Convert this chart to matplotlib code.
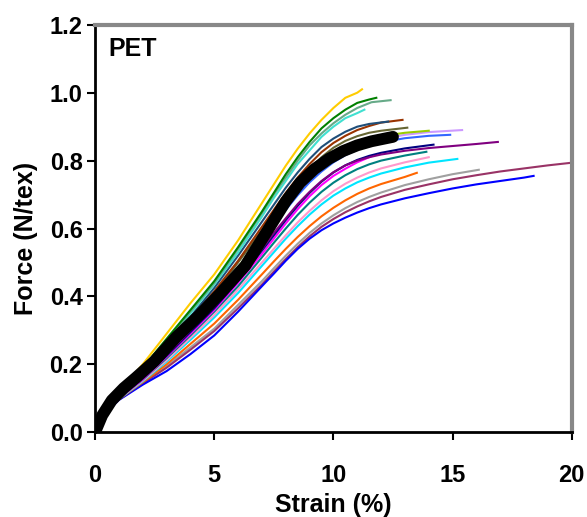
import matplotlib
matplotlib.use("Agg")
import matplotlib.pyplot as plt

plt.rcParams["font.family"] = ["Liberation Sans", "DejaVu Sans"]
plt.rcParams["font.weight"] = "bold"

# strain grid shared by every curve up to 11 % (values are per curve)
X0 = [0, 0.5, 1, 2, 3, 4, 5, 6]
XM = [7, 7.5, 8, 8.5, 9, 9.5, 10, 10.5, 11]

# individual fibre curves: strain (%) and force (N/tex)
gold_x = X0 + XM + [11.2]
gold_y = [0, 0.075, 0.12, 0.20, 0.29, 0.38, 0.465, 0.565,
          0.675, 0.73, 0.785, 0.835, 0.88, 0.92, 0.955, 0.985, 1.0, 1.01]
green_x = X0 + XM + [11.5, 11.8]
green_y = [0, 0.072, 0.115, 0.19, 0.275, 0.36, 0.445, 0.545,
           0.65, 0.705, 0.76, 0.81, 0.855, 0.895, 0.925, 0.95, 0.97, 0.98, 0.985]
seagreen_x = X0 + XM + [11.6, 12.4]
seagreen_y = [0, 0.07, 0.112, 0.185, 0.27, 0.355, 0.44, 0.54,
              0.645, 0.70, 0.75, 0.80, 0.845, 0.88, 0.91, 0.935, 0.955, 0.972, 0.978]
turq_x = X0 + XM + [11.3]
turq_y = [0, 0.07, 0.11, 0.18, 0.265, 0.35, 0.435, 0.53,
          0.635, 0.69, 0.74, 0.79, 0.83, 0.87, 0.90, 0.925, 0.94, 0.95]
slate_x = X0 + XM + [11.5, 12.3]
slate_y = [0, 0.07, 0.11, 0.18, 0.26, 0.34, 0.425, 0.52,
           0.62, 0.67, 0.72, 0.765, 0.805, 0.84, 0.865, 0.885, 0.90, 0.908, 0.915]
brown_x = X0 + XM + [11.5, 12, 12.9]
brown_y = [0, 0.068, 0.108, 0.175, 0.255, 0.335, 0.415, 0.505,
           0.605, 0.655, 0.705, 0.75, 0.79, 0.825, 0.852, 0.873, 0.89, 0.902, 0.912, 0.92]
olive_x = X0 + XM + [11.5, 12, 13.1]
olive_y = [0, 0.068, 0.107, 0.172, 0.25, 0.33, 0.41, 0.50,
           0.595, 0.645, 0.69, 0.735, 0.775, 0.81, 0.838, 0.858, 0.872, 0.882, 0.888, 0.897]
ygreen_x = X0 + XM + [11.5, 12, 13, 14]
ygreen_y = [0, 0.067, 0.106, 0.17, 0.245, 0.32, 0.40, 0.485,
            0.58, 0.63, 0.675, 0.72, 0.758, 0.79, 0.817, 0.838, 0.853, 0.864, 0.872, 0.882, 0.888]
lav_x = X0 + XM + [11.5, 12, 13, 14, 15.4]
lav_y = [0, 0.066, 0.105, 0.168, 0.24, 0.315, 0.39, 0.475,
         0.57, 0.62, 0.665, 0.708, 0.746, 0.778, 0.805, 0.826, 0.842, 0.854, 0.863, 0.876, 0.884, 0.89]
royal_x = X0 + XM + [11.5, 12, 13, 14, 14.9]
royal_y = [0, 0.066, 0.104, 0.165, 0.235, 0.31, 0.385, 0.47,
           0.56, 0.61, 0.655, 0.698, 0.736, 0.768, 0.795, 0.816, 0.832, 0.845, 0.854, 0.866, 0.873, 0.876]
purple_x = X0 + XM + [11.5, 12, 13, 14, 15, 16, 16.9]
purple_y = [0, 0.065, 0.102, 0.16, 0.228, 0.30, 0.37, 0.45,
            0.54, 0.587, 0.63, 0.672, 0.708, 0.74, 0.766, 0.786, 0.80, 0.81, 0.818, 0.829, 0.837,
            0.843, 0.849, 0.855]
navy_x = X0 + XM + [11.5, 12, 13, 14.2]
navy_y = [0, 0.065, 0.101, 0.158, 0.225, 0.295, 0.365, 0.445,
          0.535, 0.58, 0.625, 0.667, 0.705, 0.738, 0.765, 0.786, 0.802, 0.814, 0.823, 0.836, 0.847]
magenta_x = X0 + XM + [11.6]
magenta_y = [0, 0.064, 0.10, 0.156, 0.222, 0.29, 0.36, 0.44,
             0.525, 0.57, 0.615, 0.657, 0.695, 0.728, 0.755, 0.776, 0.795, 0.813]
teal_x = X0 + XM + [11.5, 12, 13, 13.9]
teal_y = [0, 0.064, 0.10, 0.155, 0.218, 0.285, 0.355, 0.43,
          0.515, 0.558, 0.60, 0.64, 0.676, 0.708, 0.735, 0.757, 0.775, 0.789, 0.80, 0.815, 0.826]
pink_x = X0 + XM + [11.5, 12, 13, 14]
pink_y = [0, 0.063, 0.099, 0.152, 0.212, 0.278, 0.345, 0.42,
          0.50, 0.54, 0.58, 0.618, 0.652, 0.683, 0.71, 0.732, 0.75, 0.765, 0.777, 0.795, 0.81]
cyan_x = X0 + XM + [11.5, 12, 13, 14, 15.2]
cyan_y = [0, 0.063, 0.098, 0.15, 0.208, 0.272, 0.338, 0.41,
          0.49, 0.53, 0.57, 0.607, 0.641, 0.671, 0.697, 0.718, 0.736, 0.75, 0.762, 0.78, 0.794, 0.805]
orange_x = X0 + XM + [11.5, 12, 13, 13.5]
orange_y = [0, 0.062, 0.097, 0.147, 0.20, 0.26, 0.32, 0.39,
            0.465, 0.503, 0.54, 0.575, 0.607, 0.636, 0.661, 0.683, 0.702, 0.718, 0.731, 0.752, 0.764]
gray_x = X0 + XM + [11.5, 12, 13, 14, 15, 16.1]
gray_y = [0, 0.061, 0.096, 0.145, 0.195, 0.25, 0.305, 0.375,
          0.445, 0.483, 0.52, 0.555, 0.587, 0.615, 0.639, 0.66, 0.678, 0.693, 0.706, 0.728, 0.745,
          0.76, 0.773]
mauve_x = X0 + XM + [11.5, 12, 13, 14, 15, 16, 17, 18, 19, 19.9]
mauve_y = [0, 0.061, 0.096, 0.144, 0.19, 0.243, 0.298, 0.365,
           0.435, 0.473, 0.51, 0.545, 0.577, 0.605, 0.628, 0.648, 0.665, 0.68, 0.693, 0.714, 0.73,
           0.745, 0.757, 0.768, 0.777, 0.786, 0.793]
blue_x = X0 + XM + [11.5, 12, 13, 14, 15, 16, 17, 18, 18.4]
blue_y = [0, 0.06, 0.095, 0.14, 0.18, 0.23, 0.285, 0.355,
          0.43, 0.467, 0.505, 0.54, 0.57, 0.595, 0.615, 0.632, 0.647, 0.66, 0.671, 0.689, 0.704,
          0.718, 0.73, 0.74, 0.75, 0.755]

# mean curve (thick black)
mean_x = [0, 0.3, 0.7, 1.2, 1.7, 2.5, 3.4, 4.3, 5.2, 6.3, 7.2, 8.0, 8.6, 9.2, 9.8, 10.4, 11.0, 11.6, 12.5]
mean_y = [0, 0.05, 0.094, 0.13, 0.16, 0.21, 0.28, 0.34, 0.405, 0.49, 0.59, 0.68, 0.735, 0.775, 0.805,
          0.828, 0.845, 0.857, 0.87]

curves = [
    ("#a0a0a0", gray_x, gray_y),
    ("#993366", mauve_x, mauve_y),
    ("#0000ff", blue_x, blue_y),
    ("#ff6600", orange_x, orange_y),
    ("#00e5ff", cyan_x, cyan_y),
    ("#ff99cc", pink_x, pink_y),
    ("#008080", teal_x, teal_y),
    ("#ff00ff", magenta_x, magenta_y),
    ("#000080", navy_x, navy_y),
    ("#800080", purple_x, purple_y),
    ("#3366ff", royal_x, royal_y),
    ("#cc99ff", lav_x, lav_y),
    ("#99cc00", ygreen_x, ygreen_y),
    ("#666633", olive_x, olive_y),
    ("#993300", brown_x, brown_y),
    ("#1f4e79", slate_x, slate_y),
    ("#40e0d0", turq_x, turq_y),
    ("#66aa88", seagreen_x, seagreen_y),
    ("#008000", green_x, green_y),
    ("#ffcc00", gold_x, gold_y),
]

fig = plt.figure(figsize=(5.87, 5.17), dpi=100)
ax = fig.add_axes([0.162, 0.164, 0.812, 0.788])

for col, xs, ys in curves:
    ax.plot(xs, ys, color=col, lw=1.5, zorder=2)
ax.plot(mean_x, mean_y, color="black", lw=8.5, solid_capstyle="round", zorder=3)

ax.set_xlim(0, 20)
ax.set_ylim(0, 1.2)
ax.set_xticks([0, 5, 10, 15, 20])
ax.set_yticks([0, 0.2, 0.4, 0.6, 0.8, 1.0, 1.2])
ax.set_yticklabels(["0.0", "0.2", "0.4", "0.6", "0.8", "1.0", "1.2"])
ax.tick_params(direction="out", length=6, width=1.5, labelsize=17)
ax.tick_params(axis="x", pad=17)
ax.tick_params(axis="y", pad=3)
for lab in ax.get_xticklabels() + ax.get_yticklabels():
    lab.set_fontweight("bold")

for s in ("left", "bottom"):
    ax.spines[s].set_linewidth(2)
    ax.spines[s].set_color("black")
for s in ("top", "right"):
    ax.spines[s].set_linewidth(3)
    ax.spines[s].set_color("#888888")

ax.set_xlabel("Strain (%)", fontsize=18, fontweight="bold", labelpad=4)
ax.set_ylabel("Force (N/tex)", fontsize=18, fontweight="bold")
ax.yaxis.set_label_coords(-0.12, 0.475)
ax.text(0.027, 0.97, "PET", transform=ax.transAxes, fontsize=18, fontweight="bold", va="top", ha="left")

fig.savefig("out.png", dpi=100)
